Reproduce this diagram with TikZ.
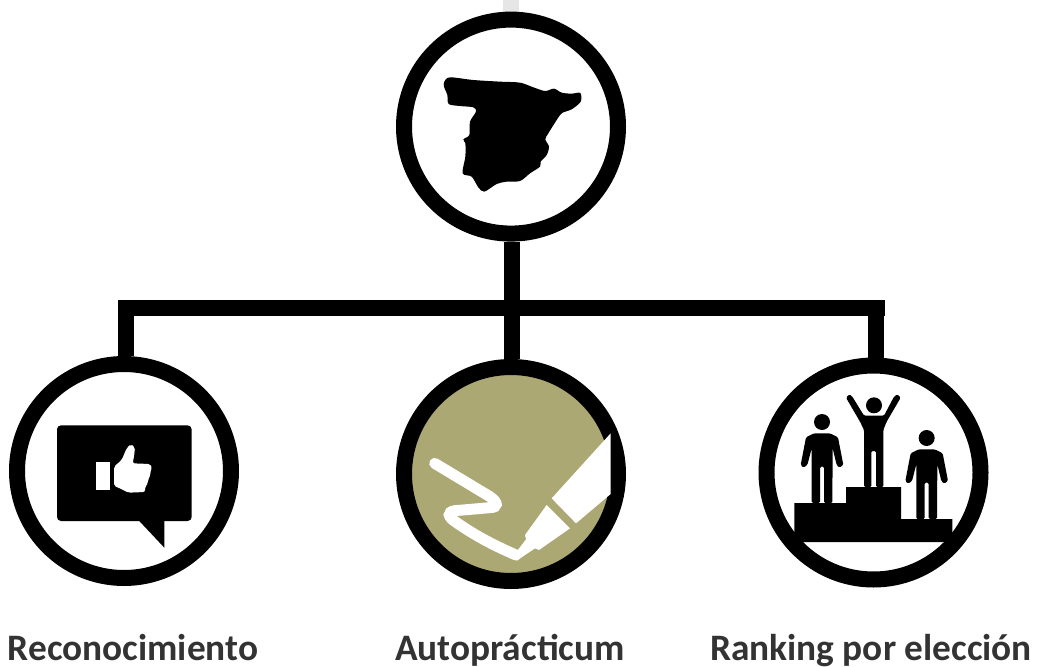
\documentclass[tikz,border=0pt]{standalone}
\usepackage{fontspec}
\setmainfont{Carlito}
\definecolor{olive}{HTML}{ABA873}
\definecolor{stripe}{HTML}{E6E6E6}
\definecolor{inktext}{HTML}{333333}
\tikzset{
  ring/.style={draw=black,circle,line width=12pt,minimum size=160.5pt,inner sep=0pt,fill=white},
  bond/.style={line width=12pt,black},
  caption/.style={anchor=base,font=\bfseries\fontsize{28}{28}\selectfont,text=inktext,inner sep=0pt},
  zoomed/.style={x=0.25pt,y=-0.25pt}
}
\newcommand{\standing}{%
  \fill (216,216) circle (24);
  \fill[rounded corners=1pt] (168,262) -- (192,250) -- (240,250) -- (264,262) -- (280,345) -- (268,353) -- (260,345)
    -- (248,295) -- (247,459) -- (222,459) -- (222,350) -- (210,350) -- (210,459) -- (185,459)
    -- (185,295) -- (172,345) -- (160,353) -- (152,345) -- cycle;
}
\begin{document}
\begin{tikzpicture}[x=0.75pt,y=-0.75pt]
  \useasboundingbox (0,0) rectangle (1038,667);
  \fill[stripe] (503,0) rectangle (519,14);
  \coordinate (barleft) at (118,308);
  \coordinate (barright) at (885,308);
  \coordinate (barmid) at (512,308);
  \coordinate (stubleft) at (126,308);
  \coordinate (stubright) at (876,308);
  \node[ring] (spain) at (511,126.6) {};
  \node[ring] (recon) at (124,471) {};
  \node[ring,fill=olive] (auto) at (511,474) {};
  \node[ring] (rank) at (873.5,472.5) {};
  \begin{scope}[bond]
    \draw (barleft) -- (barright);
    \draw (barmid) -- (barmid |- spain.south);
    \draw (barmid) -- (barmid |- auto.north);
    \draw (stubleft) -- (stubleft |- recon.north);
    \draw (stubright) -- (stubright |- rank.north);
  \end{scope}
  % map
  \begin{scope}[shift={(390,0)},zoomed]
    \fill plot[smooth cycle,tension=0.5] coordinates {
      (163,245) (180,232) (250,240) (330,245) (390,248) (430,262) (465,273) (492,266) (515,278)
      (545,281) (571,279) (572,305) (545,328) (515,340) (495,368) (475,400) (466,418) (477,440)
      (470,465) (452,485) (450,500) (420,520) (390,543) (350,545) (320,552) (283,575) (265,562)
      (245,530) (218,520) (226,470) (226,430) (220,418) (238,405) (240,365) (258,335) (250,322)
      (210,318) (176,312) (172,285) (162,260)};
  \end{scope}
  % bubble
  \begin{scope}[shift={(0,350)},zoomed]
    \fill[rounded corners=3pt] (171,226) rectangle (575,513);
    \fill (415,510) -- (493,593) -- (493,510) -- cycle;
    \fill[white] (289,335) rectangle (329,421);
    \fill[white,rounded corners=1.5pt] (342,350) -- (365,330) -- (380,295) -- (392,282) -- (405,292)
      -- (402,320) -- (398,340) -- (450,342) -- (457,352) -- (450,365) -- (452,378) -- (443,388)
      -- (445,400) -- (435,410) -- (435,426) -- (385,428) -- (360,415) -- (342,408) -- cycle;
  \end{scope}
  % pen
  \begin{scope}[shift={(390,350)},zoomed]
    \draw[white,line width=8.2pt,line cap=round] (134,340) -- (300,440)
      .. controls (325,458) and (325,472) .. (300,473) -- (195,482)
      .. controls (170,486) and (172,500) .. (200,518)
      .. controls (260,560) and (320,590) .. (378,615);
    \fill[white] (385,598) -- (408,568) -- (405,555) -- (470,465) -- (540,535) -- (447,600)
      -- (435,595) -- (380,632) -- (370,625) -- cycle;
    \fill[white] (485,445) -- (662,250) -- (662,432) -- (558,520) -- cycle;
  \end{scope}
  % podium
  \begin{scope}[shift={(750,350)},zoomed]
    \fill (133,459) -- (288,459) -- (288,411) -- (453,411) -- (453,507) -- (607,507) -- (607,552)
      -- (587,576) -- (155,576) -- (133,552) -- cycle;
    \standing
    \begin{scope}[shift={(314,48)}]
      \standing
    \end{scope}
    \fill (372,166) circle (24);
    \fill[rounded corners=1pt] (288,143) -- (298,133) -- (307,140) -- (342,197) -- (402,197) -- (432,140)
      -- (442,133) -- (452,143) -- (410,215) -- (400,240) -- (400,411) -- (378,411) -- (378,303)
      -- (364,303) -- (364,411) -- (342,411) -- (342,240) -- (330,215) -- cycle;
  \end{scope}
  \node[caption] (recontext) at (133,660.5) {Reconocimiento};
  \node[caption] (autotext) at (510,660.5) {Autoprácticum};
  \node[caption] (ranktext) at (871,660.5) {Ranking por elección};
\end{tikzpicture}
\end{document}
